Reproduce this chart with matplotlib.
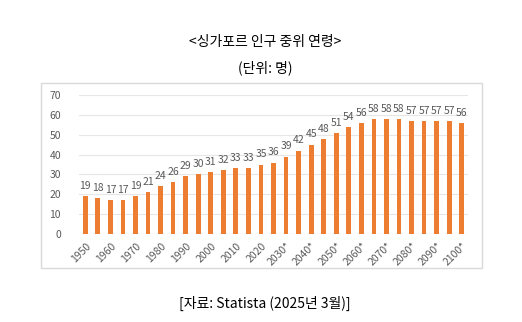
import matplotlib
matplotlib.use("Agg")
import matplotlib.pyplot as plt
from matplotlib.patches import Rectangle
import numpy as np

plt.rcParams['font.family'] = ['Noto Sans CJK KR', 'DejaVu Sans']

# 5년 간격 연도와 중위 연령
years = list(range(1950, 2101, 5))
ages = [19, 18, 17, 17, 19, 21, 24, 26, 29, 30,
        31, 32, 33, 33, 35, 36, 39, 42, 45, 48,
        51, 54, 56, 58, 58, 58, 57, 57, 57, 57, 56]
tick_years = list(range(1950, 2101, 10))
tick_labels = [str(y) if y < 2030 else f"{y}*" for y in tick_years]

W, H = 522, 322
fig = plt.figure(figsize=(W / 100, H / 100), dpi=100)

# 차트 테두리
fig.patches.append(Rectangle((41 / W, (H - 268) / H), 441 / W, 185 / H,
                             transform=fig.transFigure, fill=False,
                             edgecolor='#d9d9d9', linewidth=1))

ax = fig.add_axes([79 / W, (H - 234) / H, 389 / W, 139 / H])
x = np.arange(len(years))
ax.bar(x, ages, width=0.38, color='#ED7D31', zorder=2)
for xi, v in zip(x, ages):
    ax.text(xi, v + 2.6, str(v), ha='center', va='bottom',
            fontsize=7.5, color='#595959')

ax.set_ylim(0, 70)
ax.set_xlim(-0.5, len(years) - 0.5)
ax.set_yticks(range(0, 71, 10))
ax.grid(axis='y', color='#e6e6e6', linewidth=0.8, zorder=0)
tick_pos = [years.index(y) for y in tick_years]
ax.set_xticks(tick_pos)
ax.set_xticklabels(tick_labels, rotation=45, ha='right',
                   rotation_mode='anchor')
ax.tick_params(axis='both', length=0, labelsize=7.5, labelcolor='#595959')
ax.tick_params(axis='y', pad=13)
ax.tick_params(axis='x', pad=5)
for s in ax.spines.values():
    s.set_visible(False)
ax.axhline(0, color='#d9d9d9', linewidth=0.8, zorder=1)

fig.text(265 / W, 1 - 42 / H, '<싱가포르 인구 중위 연령>',
         ha='center', va='center', fontsize=10)
fig.text(265 / W, 1 - 68 / H, '(단위: 명)',
         ha='center', va='center', fontsize=10)
fig.text(265 / W, 1 - 303 / H, '[자료: Statista (2025년 3월)]',
         ha='center', va='center', fontsize=10)

fig.savefig('out.png', dpi=100, facecolor='white')
